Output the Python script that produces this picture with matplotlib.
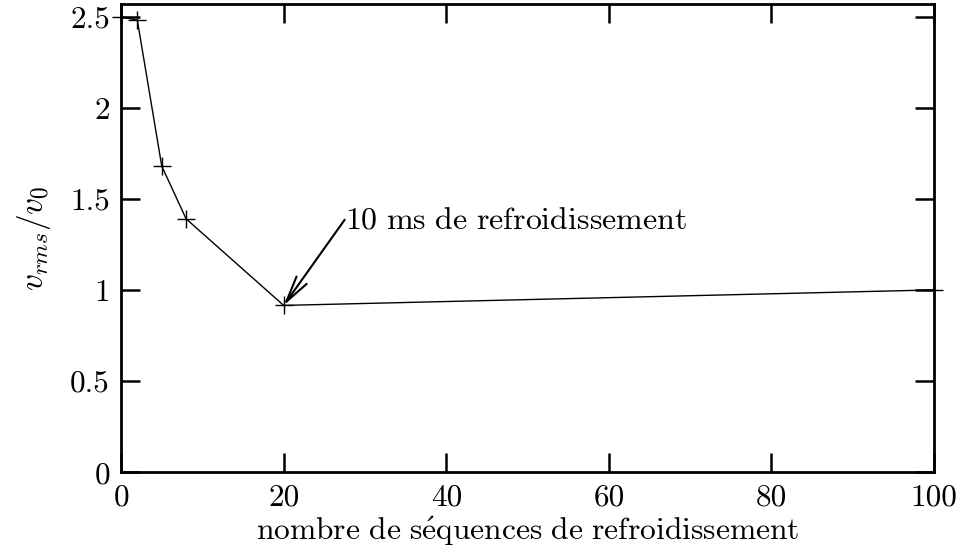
import matplotlib
matplotlib.use('Agg')
import matplotlib.pyplot as plt

# Données
sequences = [0, 2, 5, 8, 20, 100]
vitesse = [2.5, 2.48, 1.68, 1.39, 0.915, 1.0]
x_ticks = [0, 20, 40, 60, 80, 100]
y_ticks = [0, 0.5, 1, 1.5, 2, 2.5]
y_labels = ['0', '0.5', '1', '1.5', '2', '2.5']

plt.rcParams['mathtext.fontset'] = 'cm'
plt.rcParams['font.family'] = ['cmr10', 'DejaVu Serif']
plt.rcParams['axes.unicode_minus'] = False

fig = plt.figure(figsize=(9.61, 5.60), dpi=100)
ax = fig.add_axes([0.126, 0.157, 0.846, 0.836])

ax.plot(sequences, vitesse, color='black', lw=1.0, marker='+',
        markersize=13, markeredgewidth=1.0, clip_on=False)

ax.set_xlim(0, 100)
ax.set_ylim(0, 2.57)
ax.set_xticks(x_ticks)
ax.set_xticklabels([str(t) for t in x_ticks])
ax.set_yticks(y_ticks)
ax.set_yticklabels(y_labels)

ax.tick_params(direction='in', length=14, width=1.8, labelsize=22.5,
               top=True, right=True, pad=8)
for s in ax.spines.values():
    s.set_linewidth(2)

ax.set_xlabel(r'$\mathrm{nombre\ de\ s\acute{e}quences\ de\ refroidissement}$',
              fontsize=22.7, labelpad=2)
ax.set_ylabel(r'$v_{rms}/v_0$', fontsize=24, labelpad=12)

# texte et flèche
ax.text(27.5, 1.38, r'$\mathrm{10\ ms\ de\ refroidissement}$',
        fontsize=23, va='center', ha='left')
ax.annotate('', xy=(20, 0.915), xytext=(27.5, 1.385),
            arrowprops=dict(arrowstyle='->,head_length=1.9,head_width=0.45',
                            color='black', lw=1.5, shrinkA=0, shrinkB=0))

fig.savefig('out.png', dpi=100)
